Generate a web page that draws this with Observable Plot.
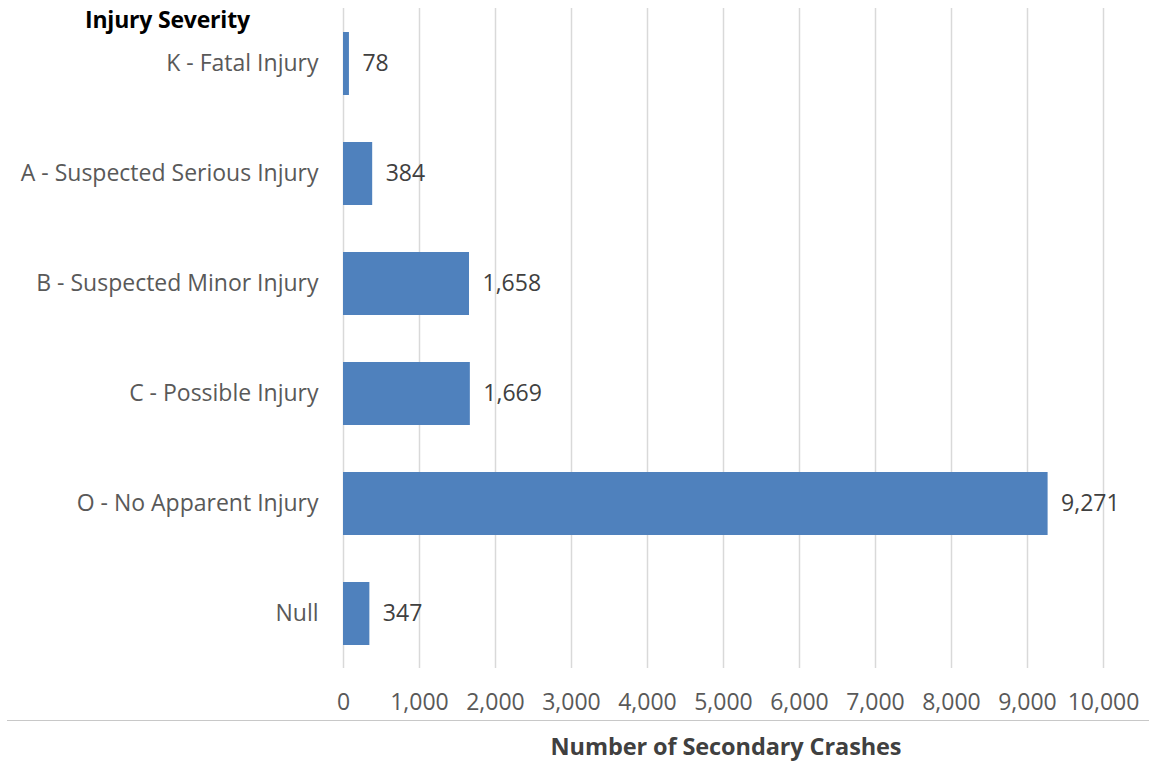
<!DOCTYPE html>
<html>
<head>
<meta charset="utf-8">
<script src="https://cdn.jsdelivr.net/npm/d3@7"></script>
<script src="https://cdn.jsdelivr.net/npm/@observablehq/plot@0.6"></script>
<style>
  html, body { margin: 0; padding: 0; background: #fff; }
  #wrap { position: relative; width: 1149px; height: 765px; font-family: "Open Sans", Lato, sans-serif; }
  #title { position: absolute; left: 85px; top: 3px; font-size: 23px; font-weight: bold; color: #000; letter-spacing: -0.2px; }
  #xlabel { position: absolute; left: 343px; width: 766px; top: 730px; text-align: center; font-size: 23.5px; font-weight: bold; color: #404040; letter-spacing: -0.1px; }
  #sep { position: absolute; left: 7px; right: 0; top: 720px; border-top: 1.5px solid #c8c8c8; }
</style>
</head>
<body>
<div id="wrap">
  <div id="chart"></div>
  <div id="sep"></div>
  <div id="title">Injury Severity</div>
  <div id="xlabel">Number of Secondary Crashes</div>
</div>
<script>
const categories = ["K - Fatal Injury", "A - Suspected Serious Injury", "B - Suspected Minor Injury", "C - Possible Injury", "O - No Apparent Injury", "Null"];
const crashes = [78, 384, 1658, 1669, 9271, 347];
const xTicks = [0, 1000, 2000, 3000, 4000, 5000, 6000, 7000, 8000, 9000, 10000];

const data = categories.map((c, i) => ({category: c, value: crashes[i]}));
const fmt = d3.format(",");

const chart = Plot.plot({
  width: 1149,
  height: 765,
  marginLeft: 343,
  marginRight: 46,
  marginTop: 8,
  marginBottom: 97,
  style: {fontFamily: "'Open Sans', Lato, sans-serif", fontSize: "21px", color: "#595959", background: "#fff"},
  x: {domain: [0, 10000], ticks: xTicks, tickFormat: fmt, label: null},
  y: {domain: categories, paddingInner: 0.43, paddingOuter: 0.215, label: null},
  marks: [
    Plot.gridX(xTicks, {stroke: "#d9d9d9", strokeOpacity: 1, strokeWidth: 1.5}),
    Plot.barX(data, {x: "value", y: "category", fill: "#4f81bd"}),
    Plot.text(data, {x: "value", y: "category", text: d => fmt(d.value), textAnchor: "start", dx: 13, fill: "#404040", fontSize: 23}),
    Plot.axisX(xTicks, {tickSize: 0, tickPadding: 25, tickFormat: fmt, fontSize: 23, fill: "#595959", label: null}),
    Plot.axisY({tickSize: 0, tickPadding: 25, fontSize: 23, fill: "#595959", label: null})
  ]
});
document.getElementById("chart").appendChild(chart);
</script>
</body>
</html>
